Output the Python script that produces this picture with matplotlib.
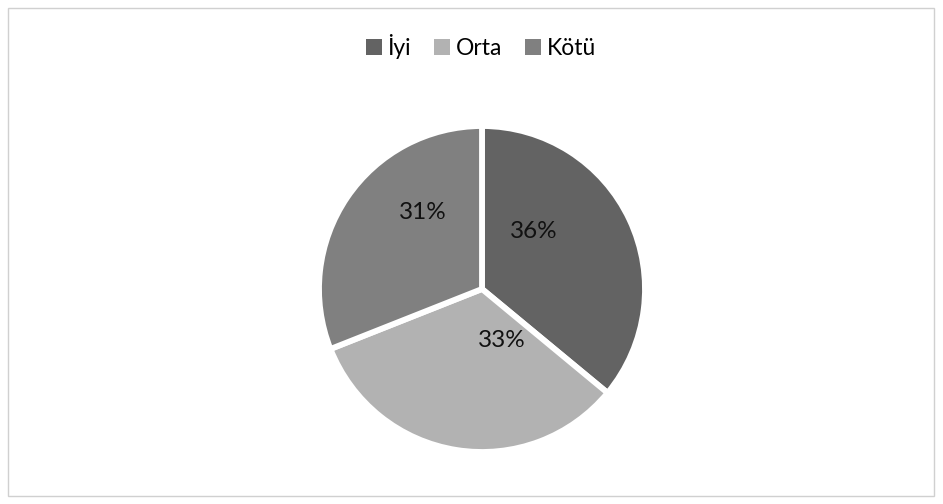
import matplotlib
matplotlib.use("Agg")
import matplotlib.pyplot as plt
from matplotlib.patches import Patch, Rectangle

categories = ["İyi", "Orta", "Kötü"]
shares = [36, 33, 31]
colors = ["#636363", "#b2b2b2", "#808080"]

# label positions as fractions of the pie radius
label_pos = [(0.317, 0.354), (0.124, -0.317), (-0.366, 0.472)]

plt.rcParams["font.family"] = ["Lato", "DejaVu Sans"]

W, H = 943, 504
fig = plt.figure(figsize=(W / 100, H / 100), dpi=100)
ax = fig.add_axes([0, 0, 1, 1])

# chart area border
fig.patches.append(Rectangle((8 / W, 8 / H), (934 - 8) / W, (496 - 8) / H,
                             transform=fig.transFigure, fill=False,
                             edgecolor="#d0d0d0", linewidth=1.0))

cx, cy, r = 482, H - 289, 163
wedges, _ = ax.pie(shares, colors=colors, startangle=90, counterclock=False,
                   center=(cx, cy), radius=r, frame=True,
                   wedgeprops=dict(edgecolor="white", linewidth=4.2))
ax.set_xlim(0, W)
ax.set_ylim(0, H)
ax.axis("off")

total = sum(shares)
for val, (fx, fy) in zip(shares, label_pos):
    ax.text(cx + fx * r, cy + fy * r, f"{round(100 * val / total)}%",
            ha="center", va="center", fontsize=17.5, color="#111111")

handles = [Patch(facecolor=c, edgecolor="none") for c in colors]
fig.legend(handles, categories, loc="center", bbox_to_anchor=(0.51, 0.908),
           ncol=3, frameon=False, fontsize=16.5, handlelength=0.7,
           handleheight=0.7, handletextpad=0.25, columnspacing=1.0)

fig.savefig("out.png", dpi=100)
